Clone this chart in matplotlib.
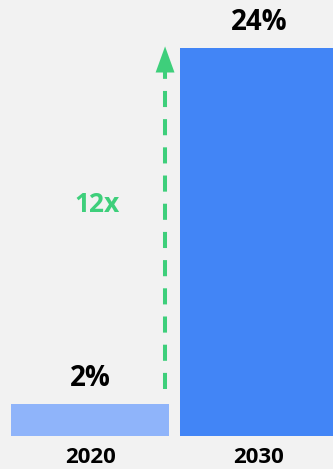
import matplotlib.pyplot as plt

years = ["2020", "2030"]
shares = [2, 24]
labels = ["2%", "24%"]
growth_label = "12x"

bg = "#f2f2f2"
bar_colors = ["#8fb4fa", "#4285f6"]
green = "#3ecf7b"

plt.rcParams["font.family"] = ["Open Sans", "DejaVu Sans"]

fig = plt.figure(figsize=(3.33, 4.69), dpi=100, facecolor=bg)
ax = fig.add_axes([0, 33 / 469, 1, 436 / 469])
ax.set_facecolor(bg)

x = list(range(len(years)))
ax.bar(x, shares, width=0.935, color=bar_colors)

ax.set_xlim(-0.533, 1.438)
ax.set_ylim(0, 26.97)

for xi, v, lab in zip(x, shares, labels):
    ax.annotate(lab, (xi, v), xytext=(0, 8), textcoords="offset points",
                ha="center", va="bottom", fontsize=20, fontweight="bold")

for xi, yr in zip(x, years):
    ax.annotate(yr, (xi, 0), xytext=(0, -15.5), textcoords="offset points",
                ha="center", va="center", fontsize=16, fontweight="bold",
                annotation_clip=False)

# growth arrow
arrow_x = 0.444
ax.plot([arrow_x, arrow_x], [2.9, 22.6], color=green, lw=2.9,
        dashes=(4, 3), solid_capstyle="butt")
ax.annotate("", xy=(arrow_x, 24.1), xytext=(arrow_x, 22.5),
            arrowprops=dict(arrowstyle="-|>,head_length=0.94,head_width=0.34",
                            mutation_scale=20, color=green, lw=0,
                            shrinkA=0, shrinkB=0))
ax.text(0.041, 14.3, growth_label, color=green, fontsize=19,
        fontweight="bold", ha="center", va="center")

ax.axis("off")
fig.savefig("out.png", dpi=100, facecolor=bg)
